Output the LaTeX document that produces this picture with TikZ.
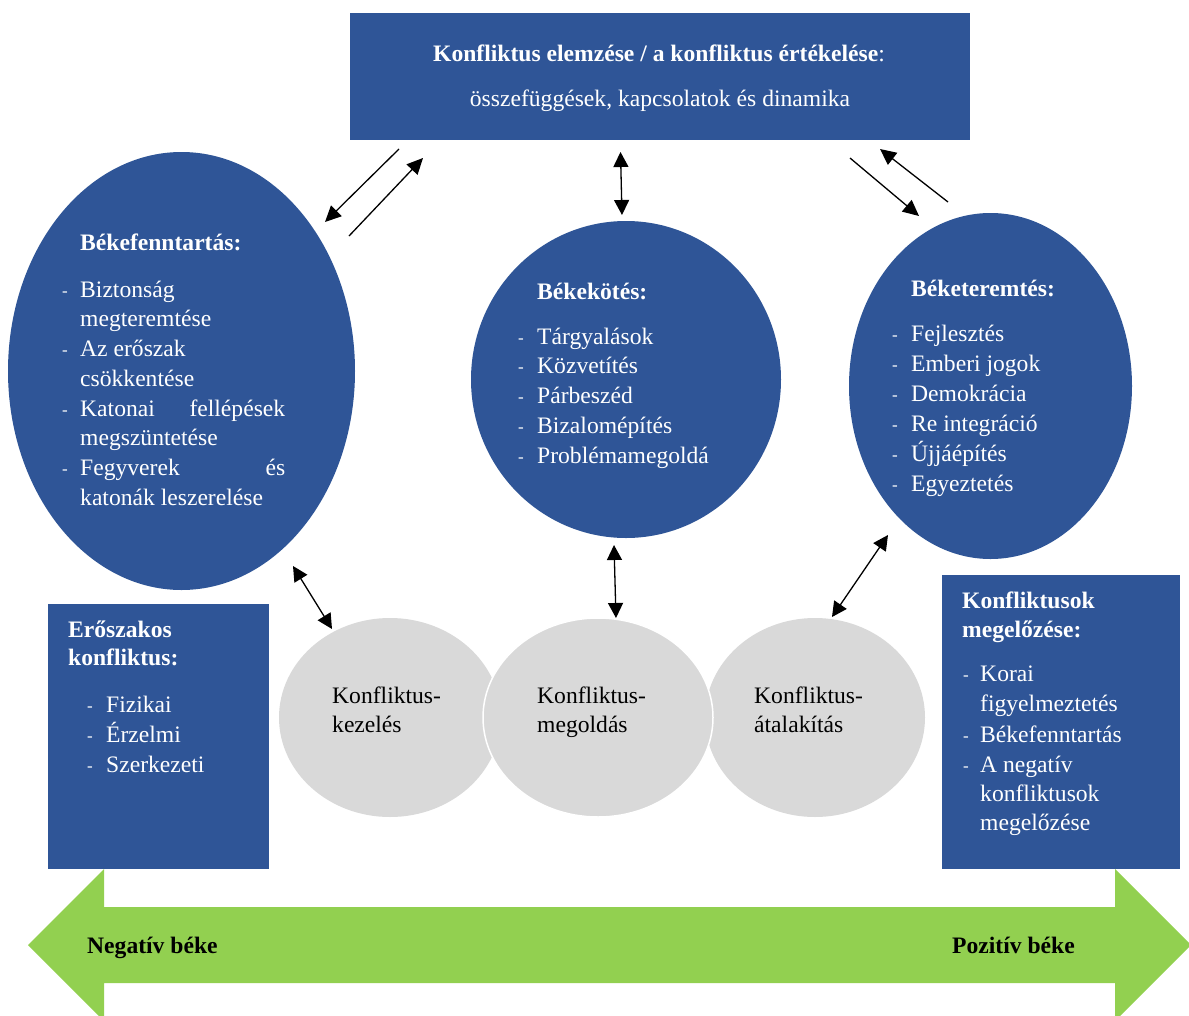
\documentclass[tikz,border=0pt]{standalone}
\usepackage{fontspec}
\setmainfont{Liberation Serif}
\usetikzlibrary{shapes.geometric,arrows.meta}
\definecolor{navy}{RGB}{47,85,151}
\definecolor{lgray}{RGB}{217,217,217}
\definecolor{lgreen}{RGB}{146,208,80}
\begin{document}
\begin{tikzpicture}[x=1pt,y=-1pt,
  txt/.style={inner sep=0pt, anchor=base west, font=\fontsize{23.6}{28}\selectfont, text=white},
  btxt/.style={txt, font=\fontsize{23.6}{28}\selectfont\bfseries},
  hyph/.style={inner sep=0pt, anchor=base west, font=\fontsize{17}{20}\selectfont, text=white, yshift=1pt},
  dtxt/.style={txt, text=black},
  bluefill/.style={fill=navy, draw=none, inner sep=0pt},
  blueell/.style={ellipse, fill=navy, draw=none, inner sep=0pt},
  grayell/.style={ellipse, fill=lgray, draw=none, inner sep=0pt},
  conn/.style={line width=1.3pt, -{Triangle[length=16pt,width=15pt]}},
  dconn/.style={line width=1.3pt, {Triangle[length=15pt,width=15pt]}-{Triangle[length=15pt,width=15pt]}}
]
\useasboundingbox (0,0) rectangle (1189,1015);
\fill[white] (0,0) rectangle (1189,1015);

% green double arrow
\fill[lgreen] (28,945) -- (104,869) -- (104,907) -- (1115,907) -- (1115,869) -- (1191,945)
  -- (1115,1021) -- (1115,983) -- (104,983) -- (104,1021) -- cycle;
\node[txt, text=black, font=\fontsize{23.6}{28}\selectfont\bfseries] (neg) at (87,953) {Negatív béke};
\node[txt, text=black, font=\fontsize{23.6}{28}\selectfont\bfseries] (poz) at (952,953) {Pozitív béke};

% top box
\node[bluefill, minimum width=620pt, minimum height=127pt] (top) at (660,76.5) {};
\node[inner sep=0pt, anchor=base, text=white, font=\fontsize{23.6}{28}\selectfont] (topa) at (659,61) {\textbf{Konfliktus elemzése / a konfliktus értékelése}:};
\node[inner sep=0pt, anchor=base, text=white, font=\fontsize{23.6}{28}\selectfont] (topb) at (660,106) {összefüggések, kapcsolatok és dinamika};

% left ellipse
\node[blueell, minimum width=347pt, minimum height=438pt] (bkf) at (181.5,371) {};
\node[btxt] (bkft) at (80,250) {Békefenntartás:};
\node[hyph] (bkfd1) at (62,297) {-};
\node[txt] (bkf1) at (80,297) {Biztonság};
\node[txt] (bkf2) at (80,326.5) {megteremtése};
\node[hyph] (bkfd3) at (62,356) {-};
\node[txt] (bkf3) at (80,356) {Az erőszak};
\node[txt] (bkf4) at (80,386) {csökkentése};
\node[hyph] (bkfd5) at (62,416) {-};
\node[txt] (bkf5) at (80,416) {\hbox to 205pt{Katonai\hfill fellépések}};
\node[txt] (bkf6) at (80,445) {megszüntetése};
\node[hyph] (bkfd7) at (62,475) {-};
\node[txt] (bkf7) at (80,475) {\hbox to 205pt{Fegyverek\hfill és}};
\node[txt] (bkf8) at (80,505) {katonák leszerelése};

% middle circle
\node[blueell, minimum width=310pt, minimum height=317pt] (bkk) at (626,379.5) {};
\node[btxt] (bkkt) at (537,299) {Békekötés:};
\foreach \t [count=\i] in {Tárgyalások,Közvetítés,Párbeszéd,Bizalomépítés,Problémamegoldá}{
  \node[hyph] (bkkd\i) at (518,{344+29.8*(\i-1)}) {-};
  \node[txt] (bkk\i) at (537,{344+29.8*(\i-1)}) {\t};
}

% right ellipse
\node[blueell, minimum width=283pt, minimum height=346pt] (bkt) at (990.5,386) {};
\node[btxt] (bktt) at (911,296) {Béketeremtés:};
\foreach \t [count=\i] in {Fejlesztés,Emberi jogok,Demokrácia,Re integráció,Újjáépítés,Egyeztetés}{
  \node[hyph] (bktd\i) at (892,{341+30*(\i-1)}) {-};
  \node[txt] (bkt\i) at (911,{341+30*(\i-1)}) {\t};
}

% gray circles
\node[grayell, minimum width=222pt, minimum height=199pt] (g1) at (390,717.5) {};
\node[grayell, minimum width=220pt, minimum height=199pt] (g3) at (815,717.5) {};
\node[grayell, draw=white, line width=1.5pt, minimum width=230pt, minimum height=199pt] (g2) at (598,717.5) {};
\node[dtxt] (g1a) at (332,703) {Konfliktus-};
\node[dtxt] (g1b) at (332,732) {kezelés};
\node[dtxt] (g2a) at (537,703) {Konfliktus-};
\node[dtxt] (g2b) at (537,732) {megoldás};
\node[dtxt] (g3a) at (754,703) {Konfliktus-};
\node[dtxt] (g3b) at (754,732) {átalakítás};

% left box
\node[bluefill, minimum width=221pt, minimum height=265pt] (lb) at (158.5,736.5) {};
\node[btxt] (lbt1) at (68,637) {Erőszakos};
\node[btxt] (lbt2) at (68,665) {konfliktus:};
\foreach \t [count=\i] in {Fizikai,Érzelmi,Szerkezeti}{
  \node[hyph] (lbd\i) at (87,{712+30*(\i-1)}) {-};
  \node[txt] (lb\i) at (106,{712+30*(\i-1)}) {\t};
}

% right box
\node[bluefill, minimum width=238pt, minimum height=294pt] (rb) at (1061,722) {};
\node[btxt] (rbt1) at (962,608) {Konfliktusok};
\node[btxt] (rbt2) at (962,637) {megelőzése:};
\node[hyph] (rbd1) at (963,681) {-};
\node[txt] (rb1) at (980,681) {Korai};
\node[txt] (rb2) at (980,711.5) {figyelmeztetés};
\node[hyph] (rbd3) at (963,742) {-};
\node[txt] (rb3) at (980,742) {Békefenntartás};
\node[hyph] (rbd4) at (963,772) {-};
\node[txt] (rb4) at (980,772) {A negatív};
\node[txt] (rb5) at (980,801) {konfliktusok};
\node[txt] (rb6) at (980,830) {megelőzése};

% connector end points
\coordinate (a1s) at (399,149); \coordinate (a1e) at (325,222);
\coordinate (a2s) at (349,236); \coordinate (a2e) at (423,158);
\coordinate (a3s) at (850,158); \coordinate (a3e) at (919,216);
\coordinate (a4s) at (948,202); \coordinate (a4e) at (880,149);
\coordinate (m1s) at (620.5,152); \coordinate (m1e) at (622,215);
\coordinate (m2s) at (614,545); \coordinate (m2e) at (616,618);
\coordinate (l1s) at (293,566); \coordinate (l1e) at (332,629);
\coordinate (r1s) at (888,535); \coordinate (r1e) at (832,617);

\draw[conn] (a1s) -- (a1e);
\draw[conn] (a2s) -- (a2e);
\draw[conn] (a3s) -- (a3e);
\draw[conn] (a4s) -- (a4e);
\draw[dconn] (m1s) -- (m1e);
\draw[dconn] (m2s) -- (m2e);
\draw[dconn] (l1s) -- (l1e);
\draw[dconn] (r1s) -- (r1e);
\end{tikzpicture}
\end{document}
